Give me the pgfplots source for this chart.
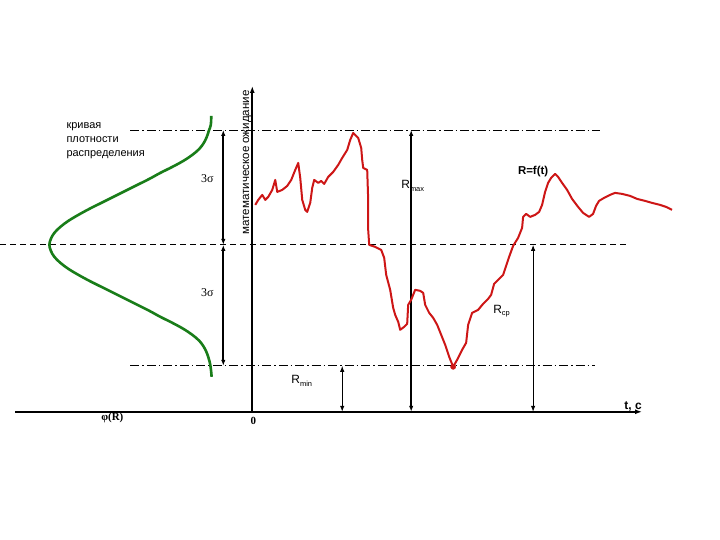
\documentclass[border=0pt]{standalone}
\usepackage{fontspec}
\setmainfont{Liberation Sans}
\newfontfamily\seriff{Liberation Serif}
\usepackage{pgfplots}
\pgfplotsset{compat=1.18}
\usetikzlibrary{arrows.meta}
\definecolor{rcurve}{RGB}{205,22,22}
\definecolor{gcurve}{RGB}{25,125,25}
\newcommand{\sub}[1]{\raisebox{-0.35ex}{\fontsize{7.5}{8}\selectfont #1}}
\begin{document}
\begin{tikzpicture}
\begin{axis}[scale only axis, width=720bp, height=540bp,
  xmin=0, xmax=720, ymin=0, ymax=540, y dir=reverse,
  hide axis, clip=false]
\path (axis cs:0,0) rectangle (axis cs:720,540);
% reference lines
\addplot[black, line width=0.8bp, dash pattern=on 9bp off 3bp on 1.5bp off 3bp] coordinates {(130,130) (600,130)};
\addplot[black, line width=0.8bp, dash pattern=on 9bp off 3bp on 1.5bp off 3bp] coordinates {(130,366) (595,366)};
\addplot[black, line width=0.8bp, dash pattern=on 6bp off 4bp] coordinates {(0,245) (630,245)};
% axes
\draw[black, line width=1.8bp, -{Latex[length=7bp,width=5bp]}] (axis cs:15,412) -- (axis cs:642,412);
\draw[black, line width=1.8bp, -{Latex[length=7bp,width=5bp]}] (axis cs:252,412) -- (axis cs:252,86);
% arrows
\draw[black, line width=1.6bp, {Latex[length=6bp,width=4.5bp]}-{Latex[length=6bp,width=4.5bp]}] (axis cs:223,130) -- (axis cs:223,245);
\draw[black, line width=1.6bp, {Latex[length=6bp,width=4.5bp]}-{Latex[length=6bp,width=4.5bp]}] (axis cs:223,245) -- (axis cs:223,366);
\draw[black, line width=0.9bp, {Latex[length=6bp,width=4.5bp]}-{Latex[length=6bp,width=4.5bp]}] (axis cs:342,366) -- (axis cs:342,412);
\draw[black, line width=1.6bp, {Latex[length=6bp,width=4.5bp]}-{Latex[length=6bp,width=4.5bp]}] (axis cs:411,130) -- (axis cs:411,412);
\draw[black, line width=0.9bp, {Latex[length=6bp,width=4.5bp]}-{Latex[length=6bp,width=4.5bp]}] (axis cs:533,245) -- (axis cs:533,412);
% density curve
\addplot[gcurve, line width=2.6bp, smooth, tension=0.6] coordinates {
(211,116) (210.5,125) (208.5,131) (206.5,137) (203.5,143) (199,149) (192,155) (183,161) (172,167) (160,173) (149,179) (137,185) (125,191) (113,197) (101,203) (89,209) (78,215) (68,221) (60,227) (54,233) (50.5,239) (49,245) (50.5,251) (54,257) (60,263) (68,269) (78,275) (89,281) (101,287) (113,293) (125,299) (137,305) (149,311) (160,317) (172,323) (183,329) (192,335) (199,341) (203.5,347) (206.5,353) (208.5,359) (210,365) (211,373) (211.3,377)};
% process curve R=f(t)
\addplot[rcurve, line width=2bp, line join=round] coordinates {
(255,205) (258,200) (262,195) (265,200) (268,197) (272,190) (275,180) (277,192) (282,190) (287,186) (291,180) (295,170) (298,163) (300,178) (302,200) (305,210) (307,212) (310,203) (312,188) (314,180) (318,183) (321,181) (324,184) (328,177) (333,172) (338,165) (342,158) (347,150) (350,140) (353,133) (358,138) (361,148) (362,160) (363,168) (367,170) (368,200) (368,230) (369,245) (375,247) (381,250) (384,258) (386,275) (390,290) (393,308) (395,315) (398,322) (400,330) (404,327) (407,324) (408,305) (411,300) (415,290) (420,291) (423,293) (425,305) (429,313) (433,318) (437,325) (441,335) (445,345) (449,357) (453,367) (457,360) (462,350) (466,343) (468,325) (472,313) (478,310) (483,304) (488,299) (491,295) (494,284) (499,279) (503,275) (506,266) (509,257) (513,246) (518,238) (522,228) (523,217) (526,214) (530,217) (535,215) (539,212) (542,205) (545,192) (548,183) (551,178) (555,174) (558,177) (562,183) (567,190) (572,199) (578,207) (583,213) (589,217) (593,214) (596,206) (599,201) (604,198) (610,195) (615,193) (622,194) (630,196) (637,199) (645,201) (652,203) (660,205) (666,207) (672,210)};
\addplot[rcurve, only marks, mark=*, mark size=2.6bp] coordinates {(453,367)};
% labels
\node[anchor=north west, align=left, inner sep=0, font=\fontsize{11}{14.5}\selectfont] at (axis cs:66,122) {кривая\\плотности\\распределения};
\node[font=\seriff\fontsize{12}{12}\selectfont, inner sep=0] at (axis cs:207,179) {3σ};
\node[font=\seriff\fontsize{12}{12}\selectfont, inner sep=0] at (axis cs:207,293) {3σ};
\node[rotate=90, font=\fontsize{11.6}{11.6}\selectfont, inner sep=0] at (axis cs:247,162.5) {математическое ожидание};
\node[anchor=west, inner sep=0, font=\fontsize{12}{12}\selectfont] at (axis cs:401,186) {R\sub{max}};
\node[inner sep=0, font=\bfseries\fontsize{11.5}{11.5}\selectfont] at (axis cs:533,172) {R=f(t)};
\node[anchor=west, inner sep=0, font=\fontsize{12}{12}\selectfont] at (axis cs:493,311) {R\sub{ср}};
\node[anchor=west, inner sep=0, font=\fontsize{12}{12}\selectfont] at (axis cs:291,381) {R\sub{min}};
\node[inner sep=0, font=\seriff\bfseries\fontsize{11}{11}\selectfont] at (axis cs:112,418) {φ(R)};
\node[inner sep=0, font=\seriff\bfseries\fontsize{11}{11}\selectfont] at (axis cs:253,421) {0};
\node[inner sep=0, font=\bfseries\fontsize{12}{12}\selectfont] at (axis cs:633,407) {t, c};
\end{axis}
\end{tikzpicture}
\end{document}
